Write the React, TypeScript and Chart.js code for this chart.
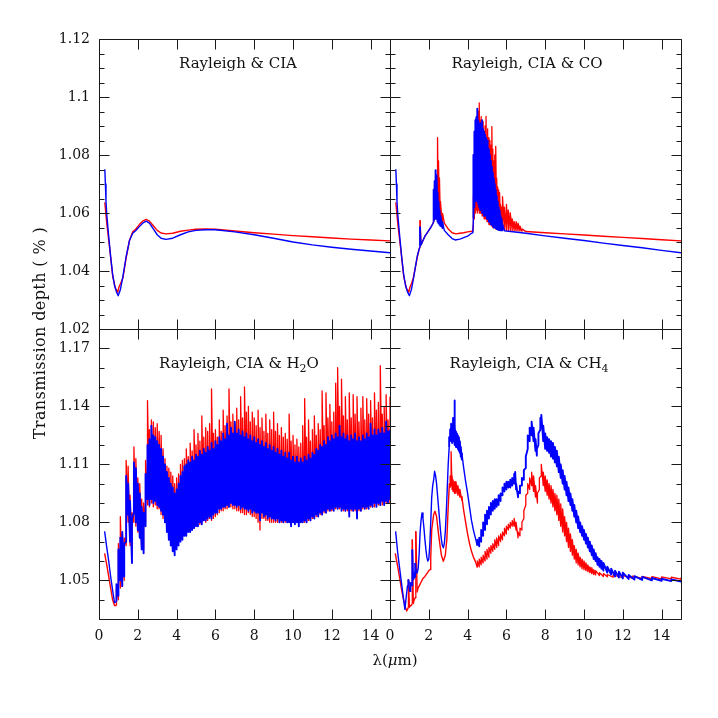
import React, { useEffect, useRef } from 'react';
import { Chart, registerables } from 'chart.js';

Chart.register(...registerables);

// ---------- axis definitions ----------
const X_MIN = 0;
const X_MAX = 15;
const X_TICKS = [0, 2, 4, 6, 8, 10, 12, 14];
const X_LABELS = ['0', '2', '4', '6', '8', '10', '12', '14'];

const TOP_Y_MIN = 1.02;
const TOP_Y_MAX = 1.12;
const TOP_Y_MAJOR = [1.02, 1.04, 1.06, 1.08, 1.1, 1.12];
const TOP_Y_LABELS = ['1.02', '1.04', '1.06', '1.08', '1.1', '1.12'];
const TOP_Y_MINOR_STEP = 0.005;

const BOT_Y_MIN = 1.03;
const BOT_Y_MAX = 1.18;
const BOT_Y_MAJOR = [1.05, 1.08, 1.11, 1.14, 1.17];
const BOT_Y_LABELS = ['1.05', '1.08', '1.11', '1.14', '1.17'];
const BOT_Y_MINOR_STEP = 0.01;

const Y_TITLE = 'Transmission depth ( % )';

// ---------- data: rows are [wavelength, value] or [wavelength, low, high] (noisy band) ----------
const ciaRed = [
  [0.3, 1.0637], [0.4, 1.0564], [0.54, 1.0484], [0.71, 1.038], [0.85, 1.034], [0.97, 1.0327],
  [1.03, 1.0345], [1.1, 1.0355], [1.23, 1.0375], [1.4, 1.0445], [1.57, 1.0505], [1.74, 1.0535],
  [1.9, 1.0545], [2.08, 1.056], [2.25, 1.0572], [2.43, 1.0578], [2.6, 1.0572], [2.8, 1.0556],
  [3.0, 1.054], [3.2, 1.0531], [3.45, 1.0528], [3.8, 1.053], [4.2, 1.0537], [4.6, 1.0541],
  [5.0, 1.0544], [5.5, 1.0545], [6.0, 1.0544], [7.0, 1.0538], [8.0, 1.0532], [9.0, 1.0527],
  [10.0, 1.0522], [11.0, 1.0518], [12.0, 1.0514], [13.0, 1.051], [14.0, 1.0507], [15.0, 1.0504],
];
const ciaBlue = [
  [0.3, 1.0751], [0.33, 1.07], [0.36, 1.064], [0.4, 1.0595], [0.5, 1.052], [0.6, 1.045],
  [0.7, 1.039], [0.8, 1.035], [0.9, 1.0328], [0.99, 1.0315], [1.1, 1.0335], [1.23, 1.038],
  [1.4, 1.045], [1.57, 1.0505], [1.74, 1.053], [1.9, 1.054], [2.08, 1.0553], [2.25, 1.0565],
  [2.43, 1.0572], [2.6, 1.0565], [2.8, 1.0545], [3.0, 1.0525], [3.2, 1.0513], [3.45, 1.0509],
  [3.8, 1.0513], [4.2, 1.0525], [4.6, 1.0535], [5.0, 1.054], [5.5, 1.0542], [6.0, 1.0542],
  [7.0, 1.0535], [8.0, 1.0525], [9.0, 1.0513], [10.0, 1.05], [11.0, 1.049], [12.0, 1.0482],
  [13.0, 1.0475], [14.0, 1.0469], [15.0, 1.0463],
];

const coRed = [
  [0.3, 1.0637], [0.4, 1.0564], [0.54, 1.0484], [0.71, 1.038], [0.85, 1.034], [0.97, 1.0327],
  [1.03, 1.0345], [1.1, 1.0355], [1.2, 1.0375], [1.3, 1.041], [1.4, 1.0445], [1.5, 1.0475],
  [1.55, 1.0484, 1.0575], [1.6, 1.049], [1.7, 1.0505], [1.8, 1.052], [1.9, 1.053], [2.0, 1.054],
  [2.1, 1.055], [2.2, 1.0562], [2.25, 1.057], [2.3, 1.058, 1.07], [2.35, 1.059, 1.073],
  [2.4, 1.058, 1.072], [2.45, 1.058, 1.086], [2.5, 1.057, 1.078], [2.55, 1.057, 1.072],
  [2.6, 1.057, 1.064], [2.7, 1.056, 1.06], [2.8, 1.0565], [3.0, 1.0545], [3.2, 1.0532],
  [3.4, 1.0528], [3.6, 1.053], [3.8, 1.0532], [4.0, 1.0535], [4.2, 1.0537], [4.27, 1.0538],
  [4.3, 1.056, 1.066], [4.35, 1.058, 1.075], [4.4, 1.06, 1.085], [4.45, 1.061, 1.088],
  [4.5, 1.06, 1.093], [4.55, 1.061, 1.095], [4.6, 1.06, 1.098], [4.65, 1.06, 1.092],
  [4.7, 1.06, 1.0932], [4.75, 1.059, 1.09], [4.8, 1.059, 1.0915], [4.85, 1.058, 1.088],
  [4.9, 1.058, 1.09], [4.95, 1.058, 1.0933], [5.0, 1.057, 1.089], [5.05, 1.057, 1.0875],
  [5.1, 1.056, 1.086], [5.15, 1.056, 1.085], [5.2, 1.056, 1.0834], [5.25, 1.0555, 1.0898],
  [5.3, 1.055, 1.082], [5.35, 1.055, 1.078], [5.4, 1.055, 1.08], [5.45, 1.0545, 1.083],
  [5.5, 1.0545, 1.072], [5.55, 1.0543, 1.069], [5.6, 1.0543, 1.068], [5.65, 1.0542, 1.067],
  [5.7, 1.0542, 1.063], [5.75, 1.0541, 1.062], [5.8, 1.0541, 1.0656], [5.9, 1.0541, 1.062],
  [6.0, 1.054, 1.063], [6.1, 1.054, 1.061], [6.2, 1.054, 1.06], [6.3, 1.0539, 1.058],
  [6.4, 1.0539, 1.057], [6.5, 1.0538, 1.057], [6.6, 1.0538, 1.0565], [6.7, 1.0538, 1.0555],
  [6.8, 1.0537, 1.0545], [7.0, 1.0536], [8.0, 1.0532], [9.0, 1.0528], [10.0, 1.0524],
  [11.0, 1.052], [12.0, 1.0516], [13.0, 1.0512], [14.0, 1.0508], [15.0, 1.0504],
];
const coBlue = [
  [0.3, 1.0751], [0.33, 1.07], [0.36, 1.064], [0.4, 1.0595], [0.5, 1.052], [0.6, 1.045],
  [0.7, 1.039], [0.8, 1.035], [0.9, 1.0328], [1.0, 1.0315], [1.1, 1.0335], [1.2, 1.037],
  [1.3, 1.041], [1.4, 1.045], [1.5, 1.0475], [1.55, 1.0484, 1.0553], [1.6, 1.049], [1.7, 1.0505],
  [1.8, 1.052], [1.9, 1.053], [2.0, 1.054], [2.1, 1.055], [2.2, 1.0562], [2.25, 1.057, 1.068],
  [2.3, 1.058, 1.071], [2.35, 1.058, 1.0748], [2.4, 1.058, 1.073], [2.45, 1.057, 1.067],
  [2.5, 1.0565, 1.064], [2.55, 1.056, 1.061], [2.6, 1.0555, 1.059], [2.7, 1.0548, 1.057],
  [2.8, 1.054], [3.0, 1.0525], [3.2, 1.0512], [3.36, 1.0507], [3.6, 1.051], [3.8, 1.0515],
  [4.0, 1.052], [4.2, 1.053], [4.27, 1.0532], [4.3, 1.058, 1.08], [4.35, 1.062, 1.088],
  [4.4, 1.064, 1.092], [4.45, 1.065, 1.093], [4.5, 1.064, 1.096], [4.55, 1.063, 1.092],
  [4.6, 1.062, 1.09], [4.65, 1.061, 1.091], [4.7, 1.062, 1.089], [4.75, 1.06, 1.092],
  [4.8, 1.061, 1.089], [4.85, 1.059, 1.088], [4.9, 1.06, 1.087], [4.95, 1.059, 1.086],
  [5.0, 1.058, 1.085], [5.05, 1.058, 1.083], [5.1, 1.057, 1.082], [5.15, 1.057, 1.08],
  [5.2, 1.056, 1.078], [5.25, 1.056, 1.076], [5.3, 1.0555, 1.074], [5.35, 1.055, 1.072],
  [5.4, 1.055, 1.07], [5.45, 1.0548, 1.068], [5.5, 1.0545, 1.066], [5.55, 1.0543, 1.064],
  [5.6, 1.0542, 1.062], [5.65, 1.0541, 1.061], [5.7, 1.054, 1.059], [5.75, 1.054, 1.058],
  [5.8, 1.054, 1.056], [5.9, 1.0539], [6.0, 1.0538], [7.0, 1.053], [8.0, 1.0521], [9.0, 1.0513],
  [10.0, 1.0505], [11.0, 1.0496], [12.0, 1.0488], [13.0, 1.048], [14.0, 1.0471], [15.0, 1.0463],
];

const h2oRed = [
  [0.29, 1.064], [0.4, 1.058], [0.5, 1.052], [0.6, 1.046], [0.7, 1.04], [0.8, 1.037],
  [0.9, 1.037, 1.046], [1.0, 1.04, 1.069], [1.1, 1.046, 1.083], [1.2, 1.047, 1.074], [1.3, 1.05, 1.072],
  [1.4, 1.068, 1.112], [1.5, 1.08, 1.109], [1.6, 1.068, 1.094], [1.7, 1.062, 1.085], [1.8, 1.08, 1.119],
  [1.9, 1.078, 1.113], [2.0, 1.075, 1.103], [2.1, 1.072, 1.1], [2.2, 1.066, 1.092], [2.3, 1.066, 1.09],
  [2.4, 1.08, 1.112], [2.5, 1.089, 1.143], [2.6, 1.088, 1.128], [2.7, 1.09, 1.133], [2.8, 1.088, 1.132],
  [2.9, 1.089, 1.129], [3.0, 1.087, 1.131], [3.1, 1.087, 1.127], [3.2, 1.084, 1.125], [3.3, 1.082, 1.118],
  [3.4, 1.08, 1.113], [3.5, 1.078, 1.109], [3.6, 1.075, 1.108], [3.7, 1.072, 1.106], [3.8, 1.07, 1.104],
  [3.9, 1.068, 1.1], [4.0, 1.07, 1.103], [4.1, 1.071, 1.105], [4.2, 1.073, 1.11], [4.3, 1.074, 1.112],
  [4.4, 1.075, 1.113], [4.5, 1.075, 1.118], [4.6, 1.076, 1.114], [4.7, 1.076, 1.121], [4.8, 1.078, 1.117],
  [4.9, 1.077, 1.128], [5.0, 1.079, 1.12], [5.1, 1.08, 1.126], [5.2, 1.079, 1.122], [5.3, 1.08, 1.135],
  [5.4, 1.081, 1.124], [5.5, 1.08, 1.129], [5.6, 1.081, 1.127], [5.7, 1.082, 1.131], [5.8, 1.081, 1.149],
  [5.9, 1.082, 1.126], [6.0, 1.083, 1.128], [6.1, 1.084, 1.124], [6.2, 1.085, 1.133], [6.3, 1.086, 1.127],
  [6.4, 1.086, 1.138], [6.5, 1.087, 1.13], [6.6, 1.087, 1.135], [6.7, 1.088, 1.149], [6.8, 1.088, 1.132],
  [6.9, 1.087, 1.136], [7.0, 1.087, 1.131], [7.1, 1.086, 1.139], [7.2, 1.086, 1.133], [7.3, 1.085, 1.145],
  [7.4, 1.085, 1.134], [7.5, 1.084, 1.15], [7.6, 1.084, 1.137], [7.7, 1.085, 1.14], [7.8, 1.084, 1.132],
  [7.9, 1.083, 1.137], [8.0, 1.083, 1.134], [8.1, 1.082, 1.13], [8.2, 1.08, 1.138], [8.3, 1.076, 1.129],
  [8.4, 1.082, 1.134], [8.5, 1.082, 1.127], [8.6, 1.081, 1.136], [8.7, 1.081, 1.126], [8.8, 1.08, 1.133],
  [8.9, 1.08, 1.128], [9.0, 1.08, 1.137], [9.1, 1.08, 1.127], [9.2, 1.08, 1.131], [9.3, 1.08, 1.125],
  [9.4, 1.08, 1.129], [9.5, 1.08, 1.124], [9.6, 1.08, 1.126], [9.7, 1.08, 1.123], [9.8, 1.08, 1.136],
  [9.9, 1.08, 1.122], [10.0, 1.08, 1.125], [10.1, 1.08, 1.12], [10.2, 1.08, 1.123], [10.3, 1.08, 1.119],
  [10.4, 1.08, 1.121], [10.5, 1.08, 1.13], [10.6, 1.08, 1.144], [10.7, 1.08, 1.124], [10.8, 1.081, 1.133],
  [10.9, 1.081, 1.122], [11.0, 1.082, 1.128], [11.1, 1.082, 1.135], [11.2, 1.083, 1.125], [11.3, 1.083, 1.131],
  [11.4, 1.084, 1.128], [11.5, 1.084, 1.148], [11.6, 1.085, 1.13], [11.7, 1.085, 1.147], [11.8, 1.086, 1.134],
  [11.9, 1.086, 1.141], [12.0, 1.086, 1.132], [12.1, 1.087, 1.137], [12.2, 1.087, 1.152], [12.3, 1.087, 1.16],
  [12.4, 1.087, 1.14], [12.5, 1.087, 1.154], [12.6, 1.086, 1.135], [12.7, 1.086, 1.145], [12.8, 1.086, 1.133],
  [12.9, 1.086, 1.147], [13.0, 1.086, 1.134], [13.1, 1.086, 1.146], [13.2, 1.086, 1.136], [13.3, 1.086, 1.145],
  [13.4, 1.086, 1.132], [13.5, 1.086, 1.139], [13.6, 1.087, 1.145], [13.7, 1.087, 1.133], [13.8, 1.087, 1.144],
  [13.9, 1.088, 1.136], [14.0, 1.088, 1.143], [14.1, 1.088, 1.134], [14.2, 1.088, 1.147], [14.3, 1.089, 1.138],
  [14.4, 1.089, 1.142], [14.5, 1.089, 1.161], [14.6, 1.089, 1.136], [14.7, 1.09, 1.14], [14.8, 1.09, 1.146],
  [14.9, 1.09, 1.133], [15.0, 1.09, 1.145],
];
const h2oBlue = [
  [0.29, 1.0753], [0.4, 1.067], [0.5, 1.06], [0.6, 1.052], [0.7, 1.045], [0.8, 1.0385],
  [0.9, 1.039, 1.048], [1.0, 1.042, 1.066], [1.1, 1.05, 1.072], [1.2, 1.047, 1.075], [1.3, 1.052, 1.069],
  [1.4, 1.07, 1.104], [1.5, 1.084, 1.1], [1.6, 1.07, 1.091], [1.7, 1.059, 1.082], [1.8, 1.085, 1.111],
  [1.9, 1.08, 1.108], [2.0, 1.076, 1.1], [2.1, 1.072, 1.095], [2.2, 1.066, 1.088], [2.3, 1.064, 1.085],
  [2.4, 1.078, 1.105], [2.5, 1.092, 1.12], [2.6, 1.089, 1.123], [2.7, 1.092, 1.13], [2.8, 1.09, 1.125],
  [2.9, 1.091, 1.124], [3.0, 1.089, 1.122], [3.1, 1.088, 1.12], [3.2, 1.086, 1.118], [3.3, 1.084, 1.114],
  [3.4, 1.08, 1.11], [3.5, 1.075, 1.106], [3.6, 1.071, 1.103], [3.7, 1.068, 1.1], [3.8, 1.065, 1.098],
  [3.9, 1.063, 1.095], [4.0, 1.066, 1.097], [4.1, 1.068, 1.1], [4.2, 1.07, 1.104], [4.3, 1.071, 1.106],
  [4.4, 1.073, 1.109], [4.5, 1.073, 1.11], [4.6, 1.075, 1.112], [4.7, 1.075, 1.111], [4.8, 1.076, 1.114],
  [4.9, 1.077, 1.112], [5.0, 1.078, 1.115], [5.1, 1.078, 1.114], [5.2, 1.08, 1.117], [5.3, 1.079, 1.115],
  [5.4, 1.081, 1.118], [5.5, 1.081, 1.116], [5.6, 1.082, 1.119], [5.7, 1.083, 1.117], [5.8, 1.082, 1.121],
  [5.9, 1.084, 1.118], [6.0, 1.085, 1.122], [6.1, 1.085, 1.12], [6.2, 1.087, 1.124], [6.3, 1.087, 1.122],
  [6.4, 1.088, 1.126], [6.5, 1.088, 1.123], [6.6, 1.089, 1.131], [6.7, 1.088, 1.125], [6.8, 1.09, 1.129],
  [6.9, 1.089, 1.126], [7.0, 1.089, 1.132], [7.1, 1.088, 1.126], [7.2, 1.089, 1.128], [7.3, 1.087, 1.125],
  [7.4, 1.088, 1.127], [7.5, 1.087, 1.124], [7.6, 1.087, 1.126], [7.7, 1.086, 1.123], [7.8, 1.087, 1.125],
  [7.9, 1.085, 1.122], [8.0, 1.086, 1.124], [8.1, 1.085, 1.121], [8.2, 1.085, 1.123], [8.3, 1.081, 1.12],
  [8.4, 1.085, 1.122], [8.5, 1.083, 1.119], [8.6, 1.084, 1.121], [8.7, 1.082, 1.118], [8.8, 1.083, 1.12],
  [8.9, 1.082, 1.117], [9.0, 1.082, 1.119], [9.1, 1.081, 1.116], [9.2, 1.082, 1.118], [9.3, 1.08, 1.115],
  [9.4, 1.081, 1.117], [9.5, 1.08, 1.114], [9.6, 1.081, 1.116], [9.7, 1.08, 1.113], [9.8, 1.08, 1.116],
  [9.9, 1.078, 1.112], [10.0, 1.08, 1.114], [10.1, 1.079, 1.111], [10.2, 1.08, 1.114], [10.3, 1.078, 1.111],
  [10.4, 1.08, 1.113], [10.5, 1.08, 1.111], [10.6, 1.081, 1.114], [10.7, 1.08, 1.112], [10.8, 1.082, 1.115],
  [10.9, 1.081, 1.113], [11.0, 1.083, 1.116], [11.1, 1.082, 1.115], [11.2, 1.084, 1.118], [11.3, 1.083, 1.117],
  [11.4, 1.085, 1.12], [11.5, 1.084, 1.119], [11.6, 1.086, 1.122], [11.7, 1.085, 1.12], [11.8, 1.087, 1.124],
  [11.9, 1.086, 1.122], [12.0, 1.087, 1.125], [12.1, 1.086, 1.123], [12.2, 1.088, 1.126], [12.3, 1.087, 1.124],
  [12.4, 1.088, 1.13], [12.5, 1.086, 1.124], [12.6, 1.087, 1.126], [12.7, 1.086, 1.123], [12.8, 1.087, 1.125],
  [12.9, 1.083, 1.122], [13.0, 1.087, 1.125], [13.1, 1.086, 1.123], [13.2, 1.087, 1.126], [13.3, 1.082, 1.122],
  [13.4, 1.087, 1.124], [13.5, 1.086, 1.122], [13.6, 1.088, 1.125], [13.7, 1.087, 1.123], [13.8, 1.088, 1.126],
  [13.9, 1.087, 1.124], [14.0, 1.089, 1.131], [14.1, 1.088, 1.125], [14.2, 1.09, 1.128], [14.3, 1.088, 1.125],
  [14.4, 1.09, 1.128], [14.5, 1.089, 1.126], [14.6, 1.091, 1.129], [14.7, 1.089, 1.126], [14.8, 1.091, 1.132],
  [14.9, 1.09, 1.127], [15.0, 1.092, 1.128],
];

const ch4Red = [
  [0.27, 1.064], [0.4, 1.057], [0.5, 1.051], [0.6, 1.045], [0.7, 1.04], [0.8, 1.036], [0.86, 1.0341],
  [0.9, 1.035], [0.95, 1.036, 1.0504], [1.0, 1.036], [1.05, 1.037], [1.1, 1.037], [1.15, 1.038, 1.0711],
  [1.2, 1.038], [1.25, 1.04], [1.3, 1.041], [1.33, 1.042, 1.0754], [1.4, 1.044], [1.45, 1.0461],
  [1.5, 1.047], [1.6, 1.049], [1.7, 1.051], [1.8, 1.052], [1.9, 1.0535], [2.0, 1.055], [2.07, 1.0556],
  [2.1, 1.062], [2.15, 1.0762], [2.2, 1.08], [2.25, 1.084], [2.32, 1.0857], [2.4, 1.083], [2.5, 1.074],
  [2.58, 1.068], [2.65, 1.063], [2.75, 1.0599], [2.85, 1.063], [2.93, 1.0711], [3.0, 1.088], [3.06, 1.1],
  [3.1, 1.098, 1.104], [3.15, 1.099, 1.1166], [3.2, 1.097, 1.104], [3.25, 1.096, 1.102], [3.3, 1.096, 1.101],
  [3.35, 1.095, 1.1], [3.4, 1.095, 1.101], [3.5, 1.094, 1.099], [3.6, 1.093, 1.097], [3.7, 1.0915, 1.0935],
  [3.8, 1.086], [3.9, 1.08], [4.0, 1.074], [4.1, 1.069], [4.2, 1.065], [4.3, 1.062], [4.4, 1.0598],
  [4.5, 1.0567, 1.06], [4.6, 1.057, 1.061], [4.7, 1.058, 1.062], [4.8, 1.059, 1.063], [4.9, 1.06, 1.065],
  [5.0, 1.061, 1.066], [5.1, 1.062, 1.067], [5.2, 1.064, 1.068], [5.3, 1.065, 1.069], [5.4, 1.066, 1.071],
  [5.5, 1.067, 1.072], [5.6, 1.068, 1.073], [5.7, 1.07, 1.074], [5.8, 1.071, 1.075], [5.9, 1.073, 1.077],
  [6.0, 1.074, 1.078], [6.1, 1.076, 1.079], [6.2, 1.077, 1.08], [6.3, 1.078, 1.081], [6.4, 1.078, 1.082],
  [6.5, 1.076, 1.08], [6.6, 1.072, 1.075], [6.7, 1.073, 1.077], [6.8, 1.076, 1.08], [6.9, 1.082, 1.086],
  [7.0, 1.089, 1.094], [7.1, 1.095, 1.1], [7.2, 1.097, 1.103], [7.3, 1.099, 1.106], [7.4, 1.096, 1.104],
  [7.5, 1.093, 1.099], [7.6, 1.09, 1.095], [7.7, 1.097, 1.103], [7.8, 1.104, 1.11], [7.9, 1.099, 1.106],
  [8.0, 1.096, 1.104], [8.1, 1.094, 1.102], [8.2, 1.092, 1.1], [8.3, 1.09, 1.099], [8.4, 1.088, 1.097],
  [8.5, 1.086, 1.095], [8.6, 1.084, 1.094], [8.7, 1.081, 1.092], [8.8, 1.078, 1.0895], [8.9, 1.075, 1.087],
  [9.0, 1.073, 1.083], [9.1, 1.07, 1.08], [9.2, 1.067, 1.077], [9.3, 1.065, 1.074], [9.4, 1.063, 1.071],
  [9.5, 1.061, 1.068], [9.6, 1.059, 1.066], [9.7, 1.058, 1.064], [9.8, 1.057, 1.062], [9.9, 1.056, 1.061],
  [10.0, 1.0555, 1.06], [10.1, 1.055, 1.059], [10.2, 1.0545, 1.058], [10.3, 1.054, 1.057],
  [10.4, 1.0535, 1.0565], [10.5, 1.053, 1.0555], [10.6, 1.0528, 1.055], [10.8, 1.0525, 1.054],
  [11.0, 1.052, 1.0535], [11.2, 1.0518, 1.053], [11.5, 1.0516, 1.0528], [12.0, 1.0514, 1.0524],
  [12.5, 1.0512, 1.0522], [13.0, 1.051, 1.052], [13.5, 1.0509, 1.0519], [14.0, 1.0508, 1.0518],
  [14.5, 1.0507, 1.0516], [15.0, 1.0506, 1.0515],
];
const ch4Blue = [
  [0.29, 1.0753], [0.4, 1.064], [0.5, 1.056], [0.6, 1.048], [0.7, 1.04], [0.77, 1.035], [0.82, 1.04],
  [0.86, 1.0435], [0.9, 1.047], [0.95, 1.048, 1.0504], [1.0, 1.045], [1.05, 1.044, 1.049], [1.1, 1.048],
  [1.15, 1.047, 1.0659], [1.2, 1.0504], [1.25, 1.051, 1.054], [1.3, 1.052, 1.059], [1.35, 1.054],
  [1.4, 1.0539], [1.45, 1.056], [1.5, 1.063], [1.55, 1.0745], [1.6, 1.081], [1.65, 1.0848], [1.7, 1.082],
  [1.75, 1.077], [1.8, 1.071], [1.85, 1.066], [1.9, 1.062], [1.95, 1.06], [2.0, 1.061], [2.05, 1.068],
  [2.1, 1.08], [2.15, 1.093], [2.2, 1.099], [2.25, 1.102], [2.3, 1.1064], [2.35, 1.104], [2.4, 1.1],
  [2.45, 1.094], [2.5, 1.088], [2.55, 1.082], [2.6, 1.076], [2.65, 1.071], [2.7, 1.068], [2.75, 1.0668],
  [2.8, 1.069], [2.85, 1.075], [2.9, 1.085], [2.95, 1.097], [3.0, 1.11], [3.05, 1.119, 1.124],
  [3.1, 1.122, 1.128], [3.15, 1.124, 1.131], [3.2, 1.121, 1.128], [3.25, 1.122, 1.134], [3.3, 1.123, 1.143],
  [3.35, 1.12, 1.13], [3.4, 1.119, 1.127], [3.45, 1.119, 1.126], [3.5, 1.118, 1.125], [3.55, 1.117, 1.124],
  [3.6, 1.116, 1.122], [3.65, 1.114, 1.119], [3.7, 1.1125, 1.116], [3.8, 1.108], [3.9, 1.101], [4.0, 1.095],
  [4.1, 1.088], [4.2, 1.081], [4.3, 1.076], [4.4, 1.072], [4.5, 1.068, 1.071], [4.6, 1.0676, 1.072],
  [4.7, 1.07, 1.076], [4.8, 1.073, 1.08], [4.9, 1.076, 1.084], [5.0, 1.079, 1.086], [5.1, 1.082, 1.088],
  [5.2, 1.084, 1.09], [5.3, 1.086, 1.091], [5.4, 1.087, 1.092], [5.5, 1.088, 1.092], [5.6, 1.089, 1.094],
  [5.7, 1.091, 1.095], [5.8, 1.094, 1.098], [5.9, 1.096, 1.1], [6.0, 1.097, 1.101], [6.1, 1.098, 1.101],
  [6.2, 1.098, 1.102], [6.3, 1.099, 1.103], [6.4, 1.1, 1.105], [6.45, 1.101, 1.106], [6.5, 1.097, 1.1],
  [6.6, 1.093, 1.096], [6.7, 1.095, 1.099], [6.8, 1.099, 1.103], [6.9, 1.102, 1.107], [7.0, 1.108, 1.114],
  [7.1, 1.118, 1.125], [7.2, 1.122, 1.129], [7.3, 1.125, 1.132], [7.4, 1.122, 1.129], [7.5, 1.117, 1.123],
  [7.57, 1.1145, 1.118], [7.65, 1.12, 1.126], [7.75, 1.128, 1.134], [7.8, 1.13, 1.1356], [7.9, 1.122, 1.13],
  [8.0, 1.118, 1.126], [8.1, 1.117, 1.124], [8.2, 1.116, 1.123], [8.3, 1.114, 1.122], [8.4, 1.113, 1.121],
  [8.5, 1.111, 1.119], [8.6, 1.109, 1.117], [8.7, 1.106, 1.114], [8.8, 1.103, 1.11], [8.9, 1.1, 1.107],
  [9.0, 1.097, 1.104], [9.1, 1.094, 1.101], [9.2, 1.091, 1.098], [9.3, 1.089, 1.095], [9.4, 1.086, 1.092],
  [9.5, 1.083, 1.089], [9.6, 1.08, 1.086], [9.7, 1.077, 1.083], [9.8, 1.075, 1.08], [9.9, 1.073, 1.078],
  [10.0, 1.071, 1.076], [10.1, 1.069, 1.074], [10.2, 1.067, 1.072], [10.3, 1.065, 1.07], [10.4, 1.063, 1.068],
  [10.5, 1.061, 1.066], [10.6, 1.06, 1.064], [10.7, 1.058, 1.062], [10.8, 1.057, 1.061], [10.9, 1.056, 1.06],
  [11.0, 1.055, 1.059], [11.2, 1.054, 1.057], [11.4, 1.053, 1.056], [11.6, 1.052, 1.055],
  [11.8, 1.0515, 1.0545], [12.0, 1.051, 1.054], [12.3, 1.0507, 1.0528], [12.6, 1.0504, 1.0522],
  [13.0, 1.0502, 1.0518], [13.5, 1.05, 1.0512], [14.0, 1.0498, 1.0508], [14.5, 1.0496, 1.0505],
  [15.0, 1.0494, 1.0502],
];

// ---------- panel layout ----------
const PANELS = [
  {
    key: 'cia', rect: { l: 99, t: 39, r: 390, b: 329 }, top: true, left: true,
    title: [{ t: 'Rayleigh & CIA' }], titlePos: [238, 63], red: ciaRed, blue: ciaBlue, yTitle: true,
  },
  {
    key: 'co', rect: { l: 390, t: 39, r: 681, b: 329 }, top: true, left: false,
    title: [{ t: 'Rayleigh, CIA & CO' }], titlePos: [527, 63], red: coRed, blue: coBlue,
  },
  {
    key: 'h2o', rect: { l: 99, t: 329, r: 390, b: 619 }, top: false, left: true,
    title: [{ t: 'Rayleigh, CIA & H' }, { t: '2', sub: true }, { t: 'O' }], titlePos: [239, 363],
    red: h2oRed, blue: h2oBlue, xTitle: true,
  },
  {
    key: 'ch4', rect: { l: 390, t: 329, r: 681, b: 619 }, top: false, left: false,
    title: [{ t: 'Rayleigh, CIA & CH' }, { t: '4', sub: true }], titlePos: [529, 363],
    red: ch4Red, blue: ch4Blue,
  },
];

const FONT = '"DejaVu Serif", "Liberation Serif", serif';

// noisy rows become a vertical stroke from low to high at the same wavelength
function expand(rows: number[][]) {
  const pts: { x: number; y: number; n?: boolean }[] = [];
  for (let i = 0; i < rows.length; i++) {
    const r = rows[i];
    if (r.length > 2) {
      pts.push({ x: r[0], y: r[1], n: true });
      pts.push({ x: r[0], y: r[2], n: true });
    } else {
      pts.push({ x: r[0], y: r[1] });
    }
  }
  return pts;
}

const framePlugin = {
  id: 'frame',
  afterDraw(chart: any) {
    const p = chart.options.plugins.frame.panel;
    const ctx = chart.ctx;
    const { left, top, right, bottom } = chart.chartArea;
    const xs = chart.scales.x;
    const ys = chart.scales.y;
    const L = Math.round(left) + 0.5;
    const R = Math.round(right) + 0.5;
    const T = Math.round(top) + 0.5;
    const B = Math.round(bottom) + 0.5;
    ctx.save();
    ctx.strokeStyle = '#1a1a1a';
    ctx.lineWidth = 1;
    ctx.beginPath();
    ctx.rect(L, T, R - L, B - T);
    X_TICKS.forEach((v) => {
      const px = Math.round(xs.getPixelForValue(v)) + 0.5;
      ctx.moveTo(px, B); ctx.lineTo(px, B - 10);
      ctx.moveTo(px, T); ctx.lineTo(px, T + 10);
    });
    const yMajor = p.top ? TOP_Y_MAJOR : BOT_Y_MAJOR;
    const yMin = p.top ? TOP_Y_MIN : BOT_Y_MIN;
    const yMax = p.top ? TOP_Y_MAX : BOT_Y_MAX;
    const step = p.top ? TOP_Y_MINOR_STEP : BOT_Y_MINOR_STEP;
    for (let k = 0; ; k++) {
      const v = yMin + k * step;
      if (v > yMax + 1e-9) break;
      const isMajor = yMajor.some((m) => Math.abs(m - v) < 1e-9);
      const len = isMajor ? 10 : 5;
      const py = Math.round(ys.getPixelForValue(v)) + 0.5;
      ctx.moveTo(L, py); ctx.lineTo(L + len, py);
      ctx.moveTo(R, py); ctx.lineTo(R - len, py);
    }
    ctx.stroke();

    ctx.fillStyle = '#111';
    if (p.left) {
      const labels = p.top ? TOP_Y_LABELS : BOT_Y_LABELS;
      ctx.font = `14px ${FONT}`;
      ctx.textAlign = 'right';
      ctx.textBaseline = 'middle';
      yMajor.forEach((v, i) => {
        ctx.fillText(labels[i], left - 9, ys.getPixelForValue(v));
      });
    }
    if (!p.top) {
      ctx.font = `14px ${FONT}`;
      ctx.textAlign = 'center';
      ctx.textBaseline = 'middle';
      X_TICKS.forEach((v, i) => {
        ctx.fillText(X_LABELS[i], xs.getPixelForValue(v), bottom + 17);
      });
    }
    const mainFont = `15px ${FONT}`;
    const subFont = `11px ${FONT}`;
    let total = 0;
    p.title.forEach((s: any) => {
      ctx.font = s.sub ? subFont : mainFont;
      total += ctx.measureText(s.t).width;
    });
    let cx = p.titlePos[0] - total / 2;
    ctx.textAlign = 'left';
    ctx.textBaseline = 'alphabetic';
    p.title.forEach((s: any) => {
      ctx.font = s.sub ? subFont : mainFont;
      ctx.fillText(s.t, cx, p.titlePos[1] + 5 + (s.sub ? 4 : 0));
      cx += ctx.measureText(s.t).width;
    });
    if (p.yTitle) {
      ctx.save();
      ctx.translate(41, 333);
      ctx.rotate(-Math.PI / 2);
      ctx.font = `16px ${FONT}`;
      try { (ctx as any).letterSpacing = '0.4px'; } catch (e) { /* ignore */ }
      ctx.textAlign = 'center';
      ctx.textBaseline = 'middle';
      ctx.fillText(Y_TITLE, 0, 0);
      ctx.restore();
    }
    if (p.xTitle) {
      const parts = [
        { t: 'λ(', f: `15px ${FONT}` },
        { t: 'μ', f: `italic 15px ${FONT}` },
        { t: 'm)', f: `15px ${FONT}` },
      ];
      let w = 0;
      parts.forEach((s) => { ctx.font = s.f; w += ctx.measureText(s.t).width; });
      let x0 = 395 - w / 2;
      ctx.textAlign = 'left';
      ctx.textBaseline = 'middle';
      parts.forEach((s) => {
        ctx.font = s.f;
        ctx.fillText(s.t, x0, 661);
        x0 += ctx.measureText(s.t).width;
      });
    }
    ctx.restore();
  },
};

function Panel({ panel }: { panel: any }) {
  const ref = useRef<HTMLCanvasElement>(null);
  useEffect(() => {
    const canvas = ref.current;
    if (!canvas) return;
    const r = panel.rect;
    const bluePts = expand(panel.blue);
    const redPts = expand(panel.red);
    const mk = (pts: any[], color: string, noisyWidth: number) => ({
      data: pts,
      borderColor: color,
      borderWidth: 1.4,
      pointRadius: 0,
      tension: 0,
      fill: false,
      borderJoinStyle: 'round' as const,
      segment: {
        borderWidth: (c: any) =>
          pts[c.p0DataIndex] && pts[c.p1DataIndex] && pts[c.p0DataIndex].n && pts[c.p1DataIndex].n
            ? noisyWidth
            : undefined,
      },
    });
    // first dataset is painted on top, so blue comes first
    const chart = new Chart(canvas, {
      type: 'line',
      data: {
        datasets: [mk(bluePts, '#0000ff', 1.9), mk(redPts, '#ff0000', 1.3)] as any,
      },
      options: {
        responsive: false,
        animation: false,
        devicePixelRatio: 1,
        events: [],
        layout: { padding: { left: r.l, top: r.t, right: 718 - r.r, bottom: 718 - r.b } },
        scales: {
          x: { type: 'linear', min: X_MIN, max: X_MAX, display: false },
          y: {
            type: 'linear',
            min: panel.top ? TOP_Y_MIN : BOT_Y_MIN,
            max: panel.top ? TOP_Y_MAX : BOT_Y_MAX,
            display: false,
          },
        },
        plugins: {
          legend: { display: false },
          tooltip: { enabled: false },
          frame: { panel },
        } as any,
      },
      plugins: [framePlugin],
    });
    return () => chart.destroy();
  }, [panel]);
  return (
    <canvas
      ref={ref}
      width={718}
      height={718}
      style={{ position: 'absolute', left: 0, top: 0, width: 718, height: 718 }}
    />
  );
}

export default function App() {
  return (
    <div style={{ position: 'fixed', left: 0, top: 0, width: 718, height: 718, background: '#fff' }}>
      {PANELS.map((p) => (
        <Panel key={p.key} panel={p} />
      ))}
    </div>
  );
}
